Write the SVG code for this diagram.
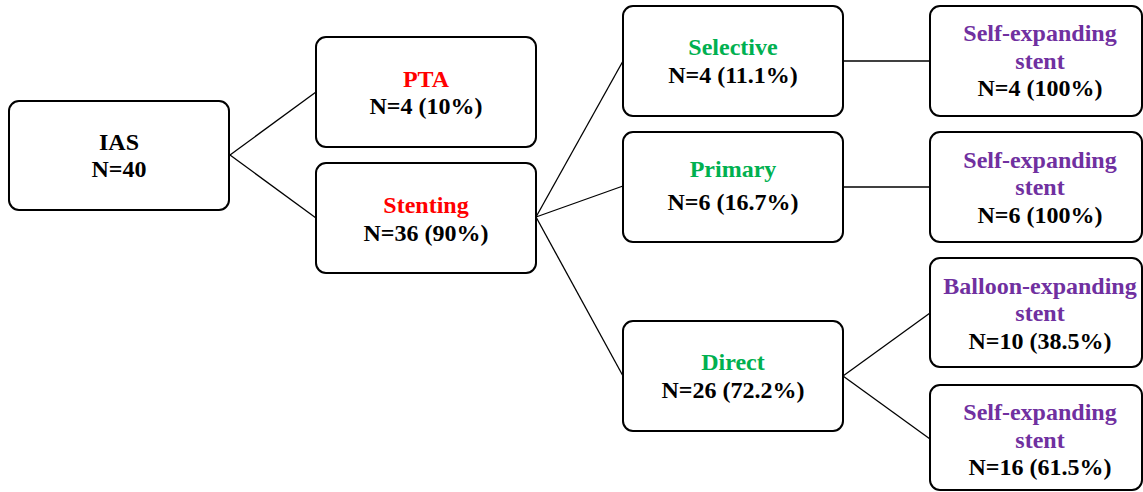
<svg xmlns="http://www.w3.org/2000/svg" width="1143" height="492" viewBox="0 0 1143 492">
<style>
.box{fill:#fff;stroke:#000;stroke-width:2}
.t{font-family:"Liberation Serif","Times New Roman",serif;font-weight:bold;font-size:24px;text-anchor:middle;fill:#000}
.red{fill:#FF0000}
.green{fill:#00B050}
.purple{fill:#7030A0}
.conn line{stroke:#000;stroke-width:1.3}
</style>
<rect width="1143" height="492" fill="#fff"/>
<g id="connectors" class="conn">
<line x1="230" y1="155" x2="316" y2="92"/>
<line x1="230" y1="155" x2="316" y2="218"/>
<line x1="536" y1="217" x2="623" y2="61"/>
<line x1="536" y1="217" x2="623" y2="186"/>
<line x1="536" y1="217" x2="623" y2="376"/>
<line x1="843" y1="61" x2="930" y2="61"/>
<line x1="843" y1="187" x2="930" y2="187"/>
<line x1="843" y1="376" x2="930" y2="313"/>
<line x1="843" y1="376" x2="930" y2="439"/>
</g>
<g id="ias">
<rect class="box" x="9" y="101" width="220" height="109" rx="10"/>
<text class="t" x="119" y="150">IAS</text>
<text class="t" x="119" y="177">N=40</text>
</g>
<g id="pta">
<rect class="box" x="316" y="37" width="220" height="110" rx="10"/>
<text class="t red" x="426" y="87">PTA</text>
<text class="t" x="426" y="114">N=4 (10%)</text>
</g>
<g id="stenting">
<rect class="box" x="316" y="163" width="220" height="110" rx="10"/>
<text class="t red" x="426" y="213">Stenting</text>
<text class="t" x="426" y="241">N=36 (90%)</text>
</g>
<g id="selective">
<rect class="box" x="623" y="6" width="220" height="110" rx="10"/>
<text class="t green" x="733" y="55">Selective</text>
<text class="t" x="733" y="83">N=4 (11.1%)</text>
</g>
<g id="primary">
<rect class="box" x="623" y="132" width="220" height="110" rx="10"/>
<text class="t green" x="733" y="177">Primary</text>
<text class="t" x="733" y="210">N=6 (16.7%)</text>
</g>
<g id="direct">
<rect class="box" x="623" y="321" width="220" height="110" rx="10"/>
<text class="t green" x="733" y="370">Direct</text>
<text class="t" x="733" y="398">N=26 (72.2%)</text>
</g>
<g id="se1">
<rect class="box" x="930" y="6" width="212" height="110" rx="10"/>
<text class="t purple" x="1040" y="41">Self-expanding</text>
<text class="t purple" x="1040" y="69">stent</text>
<text class="t" x="1040" y="96">N=4 (100%)</text>
</g>
<g id="se2">
<rect class="box" x="930" y="132" width="212" height="110" rx="10"/>
<text class="t purple" x="1040" y="168">Self-expanding</text>
<text class="t purple" x="1040" y="195">stent</text>
<text class="t" x="1040" y="223">N=6 (100%)</text>
</g>
<g id="balloon">
<rect class="box" x="930" y="258" width="212" height="109" rx="10"/>
<text class="t purple" x="1040" y="294">Balloon-expanding</text>
<text class="t purple" x="1040" y="321">stent</text>
<text class="t" x="1040" y="349">N=10 (38.5%)</text>
</g>
<g id="se3">
<rect class="box" x="930" y="385" width="212" height="105" rx="10"/>
<text class="t purple" x="1040" y="420">Self-expanding</text>
<text class="t purple" x="1040" y="448">stent</text>
<text class="t" x="1040" y="475">N=16 (61.5%)</text>
</g>
</svg>
